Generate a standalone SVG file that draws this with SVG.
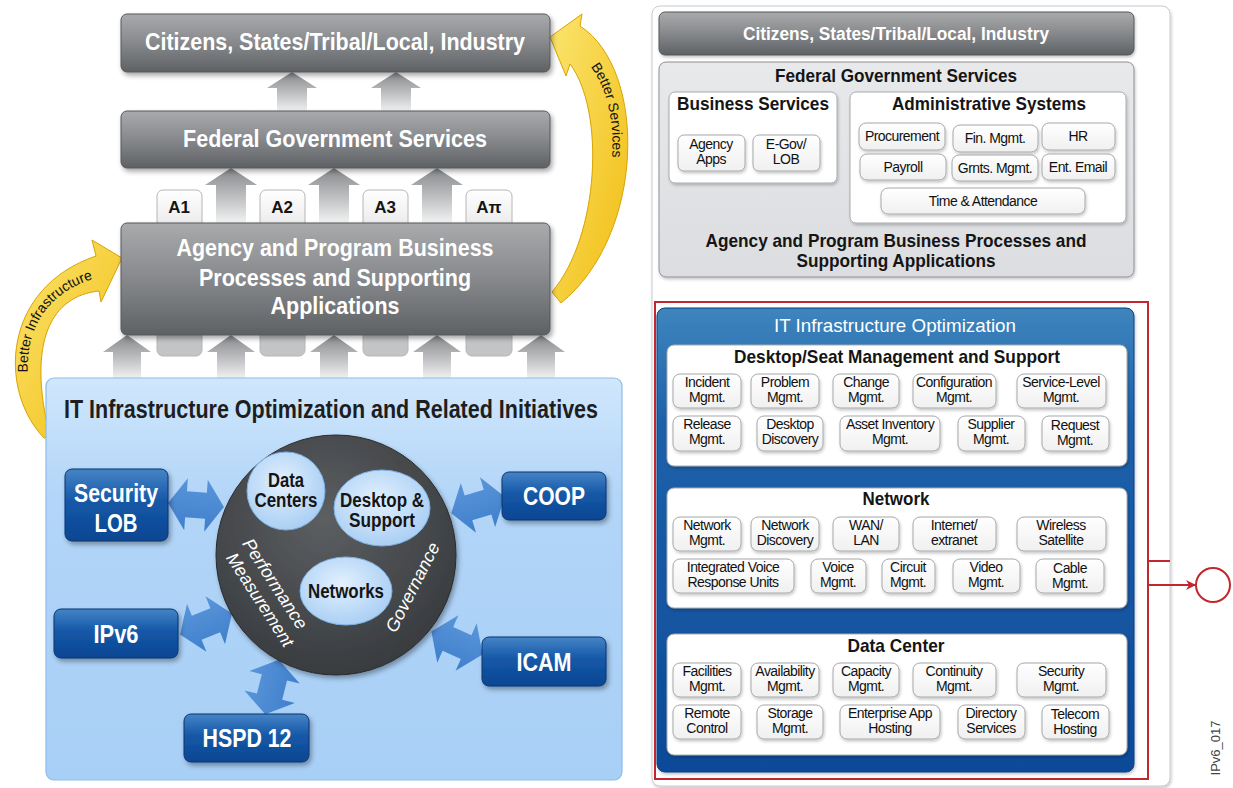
<svg xmlns="http://www.w3.org/2000/svg" width="1233" height="788" viewBox="0 0 1233 788">
<defs>
<style>
.nar{font-family:"Liberation Sans Narrow","Liberation Sans","Arial Narrow",Arial,sans-serif}
.reg{font-family:"Liberation Sans",Arial,sans-serif}
.gbox{fill:url(#gGray);stroke:#55585b;stroke-width:1}
.wt{fill:#fff;text-anchor:middle}
.bk{fill:#151515;text-anchor:middle}
.b{font-weight:bold}
.btn rect{fill:url(#gBtn);stroke:#a6a8aa;stroke-width:1;filter:url(#sh2)}
.btn text{font-family:"Liberation Sans Narrow","Liberation Sans","Arial Narrow",Arial,sans-serif;font-size:14px;letter-spacing:-0.55px;fill:#111;text-anchor:middle}
.dbox{fill:url(#gDBlue);stroke:#0a3570;stroke-width:1;filter:url(#sh)}
.inner{fill:url(#gInner);stroke:#7db0e2;stroke-width:1}
.garr{fill:url(#gArrow)}
.darr{fill:url(#gDArr)}
.yel{fill:url(#gYellow);stroke:#d9a300;stroke-width:1}
.tab{fill:url(#gTab);stroke:#b4b6b8;stroke-width:1}
.wpanel{fill:#fff;stroke:#c8cacc;stroke-width:1}
.sub{fill:#fff;stroke:#a8aaac;stroke-width:1;filter:url(#sh2)}
</style>
<linearGradient id="gGray" x1="0" y1="0" x2="0" y2="1"><stop offset="0" stop-color="#a8aaac"/><stop offset="0.45" stop-color="#8a8c8f"/><stop offset="1" stop-color="#5e6164"/></linearGradient>
<linearGradient id="gTab" x1="0" y1="0" x2="0" y2="1"><stop offset="0" stop-color="#ffffff"/><stop offset="0.2" stop-color="#ececec"/><stop offset="0.3" stop-color="#c9cacc"/><stop offset="1" stop-color="#c3c4c6"/></linearGradient>
<linearGradient id="gArrow" x1="0" y1="0" x2="0" y2="1"><stop offset="0" stop-color="#86888b"/><stop offset="0.6" stop-color="#c6c7c9"/><stop offset="1" stop-color="#f3f3f3"/></linearGradient>
<linearGradient id="gLBlue" x1="0" y1="0" x2="0" y2="1"><stop offset="0" stop-color="#d0e7fc"/><stop offset="0.3" stop-color="#b2d5f8"/><stop offset="1" stop-color="#a8cff6"/></linearGradient>
<linearGradient id="gDBlue" x1="0" y1="0" x2="0" y2="1"><stop offset="0" stop-color="#4584c6"/><stop offset="0.45" stop-color="#1558a7"/><stop offset="1" stop-color="#0a4692"/></linearGradient>
<linearGradient id="gDArr" x1="0" y1="0" x2="0" y2="1"><stop offset="0" stop-color="#5a95da"/><stop offset="1" stop-color="#3f7fcb"/></linearGradient>
<radialGradient id="gCircle" cx="0.45" cy="0.35" r="0.7"><stop offset="0" stop-color="#5c5f62"/><stop offset="1" stop-color="#36393c"/></radialGradient>
<radialGradient id="gInner" cx="0.45" cy="0.4" r="0.65"><stop offset="0" stop-color="#e3f1fe"/><stop offset="1" stop-color="#a6ccf3"/></radialGradient>
<linearGradient id="gYellow" x1="0" y1="0" x2="1" y2="1"><stop offset="0" stop-color="#fbe46e"/><stop offset="1" stop-color="#f1bd12"/></linearGradient>
<linearGradient id="gIT" x1="0" y1="0" x2="0" y2="1"><stop offset="0" stop-color="#3e85bd"/><stop offset="0.25" stop-color="#1d61aa"/><stop offset="1" stop-color="#0b4a99"/></linearGradient>
<linearGradient id="gBtn" x1="0" y1="0" x2="0" y2="1"><stop offset="0" stop-color="#ffffff"/><stop offset="1" stop-color="#f0f0f0"/></linearGradient>
<linearGradient id="gFed" x1="0" y1="0" x2="0" y2="1"><stop offset="0" stop-color="#e8e9eb"/><stop offset="1" stop-color="#dcdde0"/></linearGradient>
<filter id="sh" x="-10%" y="-10%" width="125%" height="135%"><feDropShadow dx="2" dy="3" stdDeviation="2.5" flood-color="#000" flood-opacity="0.35"/></filter>
<filter id="sh2" x="-10%" y="-10%" width="125%" height="140%"><feDropShadow dx="1" dy="2" stdDeviation="1.5" flood-color="#000" flood-opacity="0.22"/></filter>
<path id="dbl" d="M-28,0 L-10,-26 L-10,-13 L10,-13 L10,-26 L28,0 L10,26 L10,13 L-10,13 L-10,26 Z"/>
<marker id="redArr" markerWidth="10" markerHeight="10" refX="9" refY="5" orient="auto" markerUnits="userSpaceOnUse"><path d="M0,0 L10,5 L0,10 L3,5 Z" fill="#c1272d"/></marker>
<path id="pInfra" d="M28,380 C24,325 50,290 100,277"/>
<path id="pServ" d="M575,50 C604,73 620,120 609,180"/>
</defs>

<rect width="1233" height="788" fill="#fff"/>

<g id="tabs">
<rect class="tab" x="157" y="190" width="45" height="166" rx="6"/>
<rect class="tab" x="260" y="190" width="45" height="166" rx="6"/>
<rect class="tab" x="363" y="190" width="45" height="166" rx="6"/>
<rect class="tab" x="466" y="190" width="46" height="166" rx="6"/>
<text class="reg b bk" x="179" y="213" font-size="17">A1</text>
<text class="reg b bk" x="282" y="213" font-size="17">A2</text>
<text class="reg b bk" x="385" y="213" font-size="17">A3</text>
<text class="reg b bk" x="489" y="213" font-size="17">Aπ</text>
</g>

<g id="connectors">
<path class="garr" d="M292,72 L317,88 L307,88 L307,112 L277,112 L277,88 L267,88 Z"/>
<path class="garr" d="M396,72 L421,88 L411,88 L411,112 L381,112 L381,88 L371,88 Z"/>
<path class="garr" d="M231,168 L257,185 L246,185 L246,223 L216,223 L216,185 L205,185 Z"/>
<path class="garr" d="M334,168 L360,185 L349,185 L349,223 L319,223 L319,185 L308,185 Z"/>
<path class="garr" d="M437,168 L463,185 L452,185 L452,223 L422,223 L422,185 L411,185 Z"/>
<path class="garr" d="M127,335 L151,352 L141,352 L141,379 L113,379 L113,352 L103,352 Z"/>
<path class="garr" d="M231,335 L255,352 L245,352 L245,379 L217,379 L217,352 L207,352 Z"/>
<path class="garr" d="M334,335 L358,352 L348,352 L348,379 L320,379 L320,352 L310,352 Z"/>
<path class="garr" d="M437,335 L461,352 L451,352 L451,379 L423,379 L423,352 L413,352 Z"/>
<path class="garr" d="M541,335 L565,352 L555,352 L555,379 L527,379 L527,352 L517,352 Z"/>
<g id="arrInfra">
<path class="yel" d="M44,438 C-2,390 2,288 96,256 L92,240 L122,258 L101,302 L99,291 C52,296 26,340 50,437 Z"/>
<text class="reg" font-size="14" fill="#111"><textPath href="#pInfra" startOffset="50%" text-anchor="middle">Better Infrastructure</textPath></text>
</g>
<g id="arrServ">
<path class="yel" d="M552,292 C600,235 605,110 570,64 L566,76 L550,37 L582,14 L580,26 C648,70 645,235 561,303 Z"/>
<text class="reg" font-size="14" fill="#111"><textPath href="#pServ" startOffset="50%" text-anchor="middle">Better Services</textPath></text>
</g>
</g>

<g id="citizens">
<rect class="gbox" x="121" y="14" width="429" height="58" rx="6" filter="url(#sh)"/>
<text class="nar b wt" x="335" y="50" font-size="24" textLength="380" lengthAdjust="spacingAndGlyphs">Citizens, States/Tribal/Local, Industry</text>
</g>
<g id="federal">
<rect class="gbox" x="121" y="111" width="429" height="57" rx="6" filter="url(#sh)"/>
<text class="nar b wt" x="335" y="147" font-size="24" textLength="304" lengthAdjust="spacingAndGlyphs">Federal Government Services</text>
</g>
<g id="agency">
<rect class="gbox" x="121" y="223" width="429" height="112" rx="6" filter="url(#sh)"/>
<text class="nar b wt" x="335" y="256" font-size="24" textLength="317" lengthAdjust="spacingAndGlyphs">Agency and Program Business</text>
<text class="nar b wt" x="335" y="286" font-size="24" textLength="272" lengthAdjust="spacingAndGlyphs">Processes and Supporting</text>
<text class="nar b wt" x="335" y="314" font-size="24" textLength="129" lengthAdjust="spacingAndGlyphs">Applications</text>
</g>

<g id="itio-related">
<rect x="46" y="378" width="576" height="402" rx="8" fill="url(#gLBlue)" stroke="#8cbde9" stroke-width="1.2"/>
<text class="nar b" x="64" y="418" font-size="25" fill="#1e1e1e" textLength="534" lengthAdjust="spacingAndGlyphs">IT Infrastructure Optimization and Related Initiatives</text>
</g>

<g id="double-arrows">
<use href="#dbl" class="darr" transform="translate(196,505) rotate(4)"/>
<use href="#dbl" class="darr" transform="translate(478,505) rotate(-17)"/>
<use href="#dbl" class="darr" transform="translate(206,624) rotate(-22)"/>
<use href="#dbl" class="darr" transform="translate(457,643) rotate(24)"/>
<use href="#dbl" class="darr" transform="translate(272,687) rotate(-76)"/>
</g>

<g id="hub">
<circle cx="336" cy="555" r="120" fill="url(#gCircle)" stroke="#2a2c2e" stroke-width="1" filter="url(#sh)"/>
<text class="nar" font-size="18" font-style="italic" fill="#fff" text-anchor="middle" transform="translate(270,587) rotate(57)" textLength="104" lengthAdjust="spacingAndGlyphs">Performance</text>
<text class="nar" font-size="18" font-style="italic" fill="#fff" text-anchor="middle" transform="translate(255,603) rotate(57)" textLength="108" lengthAdjust="spacingAndGlyphs">Measurement</text>
<text class="nar" font-size="18" font-style="italic" fill="#fff" text-anchor="middle" transform="translate(418,590) rotate(-63)" textLength="98" lengthAdjust="spacingAndGlyphs">Governance</text>
</g>
<g id="data-centers">
<circle class="inner" cx="286" cy="491" r="39"/>
<text class="nar b bk" x="286" y="487" font-size="20" textLength="36" lengthAdjust="spacingAndGlyphs">Data</text>
<text class="nar b bk" x="286" y="507" font-size="20" textLength="63" lengthAdjust="spacingAndGlyphs">Centers</text>
</g>
<g id="desktop-support">
<ellipse class="inner" cx="382" cy="508" rx="48" ry="38"/>
<text class="nar b bk" x="382" y="507" font-size="20" textLength="84" lengthAdjust="spacingAndGlyphs">Desktop &amp;</text>
<text class="nar b bk" x="382" y="527" font-size="20" textLength="66" lengthAdjust="spacingAndGlyphs">Support</text>
</g>
<g id="networks">
<ellipse class="inner" cx="346" cy="591" rx="46" ry="34"/>
<text class="nar b bk" x="346" y="598" font-size="20" textLength="76" lengthAdjust="spacingAndGlyphs">Networks</text>
</g>

<g id="security-lob">
<rect class="dbox" x="65" y="469" width="103" height="72" rx="7"/>
<text class="nar b wt" x="116" y="502" font-size="25" textLength="84" lengthAdjust="spacingAndGlyphs">Security</text>
<text class="nar b wt" x="116" y="532" font-size="25" textLength="43" lengthAdjust="spacingAndGlyphs">LOB</text>
</g>
<g id="coop">
<rect class="dbox" x="502" y="472" width="104" height="48" rx="7"/>
<text class="nar b wt" x="554" y="505" font-size="25" textLength="62" lengthAdjust="spacingAndGlyphs">COOP</text>
</g>
<g id="ipv6">
<rect class="dbox" x="54" y="609" width="124" height="49" rx="7"/>
<text class="nar b wt" x="116" y="643" font-size="25" textLength="45" lengthAdjust="spacingAndGlyphs">IPv6</text>
</g>
<g id="icam">
<rect class="dbox" x="482" y="637" width="124" height="49" rx="7"/>
<text class="nar b wt" x="544" y="671" font-size="25" textLength="55" lengthAdjust="spacingAndGlyphs">ICAM</text>
</g>
<g id="hspd12">
<rect class="dbox" x="184" y="714" width="125" height="48" rx="7"/>
<text class="nar b wt" x="247" y="747" font-size="25" textLength="89" lengthAdjust="spacingAndGlyphs">HSPD 12</text>
</g>

<g id="right-panel">
<rect class="wpanel" x="652" y="6" width="518" height="780" rx="8" filter="url(#sh2)"/>
</g>
<g id="r-citizens">
<rect class="gbox" x="659" y="12" width="475" height="43" rx="6" filter="url(#sh2)"/>
<text class="nar b wt" x="896" y="40" font-size="18" textLength="306" lengthAdjust="spacingAndGlyphs">Citizens, States/Tribal/Local, Industry</text>
</g>
<g id="r-federal">
<rect x="659" y="62" width="475" height="215" rx="7" fill="url(#gFed)" stroke="#8e9092" stroke-width="1" filter="url(#sh2)"/>
<text class="nar b bk" x="896" y="82" font-size="19" textLength="242" lengthAdjust="spacingAndGlyphs">Federal Government Services</text>
<text class="nar b bk" x="896" y="247" font-size="19" textLength="381" lengthAdjust="spacingAndGlyphs">Agency and Program Business Processes and</text>
<text class="nar b bk" x="896" y="267" font-size="19" textLength="199" lengthAdjust="spacingAndGlyphs">Supporting Applications</text>
</g>
<g id="business-services">
<rect class="sub" x="669" y="92" width="168" height="91" rx="6"/>
<text class="nar b bk" x="753" y="110" font-size="19" textLength="152" lengthAdjust="spacingAndGlyphs">Business Services</text>
<g class="btn">
<rect x="678" y="135" width="67" height="36" rx="6"/><text x="711" y="149">Agency</text><text x="711" y="164">Apps</text>
<rect x="753" y="135" width="67" height="36" rx="6"/><text x="786" y="149">E-Gov/</text><text x="786" y="164">LOB</text>
</g>
</g>
<g id="admin-systems">
<rect class="sub" x="850" y="92" width="276" height="131" rx="6"/>
<text class="nar b bk" x="989" y="110" font-size="19" textLength="194" lengthAdjust="spacingAndGlyphs">Administrative Systems</text>
<g class="btn">
<rect x="859" y="123" width="86" height="27" rx="7"/><text x="902" y="141">Procurement</text>
<rect x="953" y="125" width="85" height="27" rx="7"/><text x="995" y="143">Fin. Mgmt.</text>
<rect x="1042" y="123" width="73" height="27" rx="7"/><text x="1078" y="141">HR</text>
<rect x="860" y="154" width="86" height="26" rx="7"/><text x="903" y="172">Payroll</text>
<rect x="952" y="155" width="86" height="26" rx="7"/><text x="995" y="173">Grnts. Mgmt.</text>
<rect x="1042" y="154" width="73" height="26" rx="7"/><text x="1078" y="172">Ent. Email</text>
<rect x="881" y="188" width="204" height="26" rx="7"/><text x="983" y="206">Time &amp; Attendance</text>
</g>
</g>

<g id="it-optimization">
<rect x="657" y="308" width="477" height="464" rx="8" fill="url(#gIT)" stroke="#0a3f80" stroke-width="1" filter="url(#sh2)"/>
<text class="nar wt" x="895" y="332" font-size="19" textLength="242" lengthAdjust="spacingAndGlyphs">IT Infrastructure Optimization</text>
</g>
<g id="desktop-seat">
<rect class="sub" x="667" y="345" width="460" height="121" rx="7"/>
<text class="nar b bk" x="897" y="363" font-size="19" textLength="326" lengthAdjust="spacingAndGlyphs">Desktop/Seat Management and Support</text>
<g class="btn">
<rect x="673" y="374" width="68" height="34" rx="7"/><text x="707" y="387">Incident</text><text x="707" y="402">Mgmt.</text>
<rect x="751" y="374" width="68" height="34" rx="7"/><text x="785" y="387">Problem</text><text x="785" y="402">Mgmt.</text>
<rect x="833" y="374" width="66" height="34" rx="7"/><text x="866" y="387">Change</text><text x="866" y="402">Mgmt.</text>
<rect x="913" y="374" width="83" height="34" rx="7"/><text x="954" y="387">Configuration</text><text x="954" y="402">Mgmt.</text>
<rect x="1017" y="374" width="89" height="34" rx="7"/><text x="1061" y="387">Service-Level</text><text x="1061" y="402">Mgmt.</text>
<rect x="673" y="416" width="68" height="35" rx="7"/><text x="707" y="429">Release</text><text x="707" y="444">Mgmt.</text>
<rect x="757" y="416" width="66" height="35" rx="7"/><text x="790" y="429">Desktop</text><text x="790" y="444">Discovery</text>
<rect x="840" y="416" width="100" height="35" rx="7"/><text x="890" y="429">Asset Inventory</text><text x="890" y="444">Mgmt.</text>
<rect x="958" y="416" width="67" height="35" rx="7"/><text x="991" y="429">Supplier</text><text x="991" y="444">Mgmt.</text>
<rect x="1042" y="416" width="67" height="35" rx="7"/><text x="1075" y="430">Request</text><text x="1075" y="445">Mgmt.</text>
</g>
</g>
<g id="network">
<rect class="sub" x="667" y="488" width="460" height="120" rx="7"/>
<text class="nar b bk" x="896" y="505" font-size="19" textLength="67" lengthAdjust="spacingAndGlyphs">Network</text>
<g class="btn">
<rect x="673" y="517" width="68" height="34" rx="7"/><text x="707" y="530">Network</text><text x="707" y="545">Mgmt.</text>
<rect x="751" y="517" width="68" height="34" rx="7"/><text x="785" y="530">Network</text><text x="785" y="545">Discovery</text>
<rect x="833" y="517" width="66" height="34" rx="7"/><text x="866" y="530">WAN/</text><text x="866" y="545">LAN</text>
<rect x="913" y="517" width="83" height="34" rx="7"/><text x="954" y="530">Internet/</text><text x="954" y="545">extranet</text>
<rect x="1017" y="517" width="89" height="34" rx="7"/><text x="1061" y="530">Wireless</text><text x="1061" y="545">Satellite</text>
<rect x="673" y="559" width="121" height="34" rx="7"/><text x="733" y="572">Integrated Voice</text><text x="733" y="587">Response Units</text>
<rect x="811" y="559" width="55" height="34" rx="7"/><text x="838" y="572">Voice</text><text x="838" y="587">Mgmt.</text>
<rect x="882" y="559" width="53" height="34" rx="7"/><text x="908" y="572">Circuit</text><text x="908" y="587">Mgmt.</text>
<rect x="953" y="559" width="67" height="34" rx="7"/><text x="986" y="572">Video</text><text x="986" y="587">Mgmt.</text>
<rect x="1036" y="559" width="68" height="34" rx="7"/><text x="1070" y="573">Cable</text><text x="1070" y="588">Mgmt.</text>
</g>
</g>
<g id="data-center">
<rect class="sub" x="667" y="634" width="460" height="121" rx="7"/>
<text class="nar b bk" x="896" y="652" font-size="19" textLength="97" lengthAdjust="spacingAndGlyphs">Data Center</text>
<g class="btn">
<rect x="673" y="663" width="68" height="34" rx="7"/><text x="707" y="676">Facilities</text><text x="707" y="691">Mgmt.</text>
<rect x="751" y="663" width="68" height="34" rx="7"/><text x="785" y="676">Availability</text><text x="785" y="691">Mgmt.</text>
<rect x="833" y="663" width="66" height="34" rx="7"/><text x="866" y="676">Capacity</text><text x="866" y="691">Mgmt.</text>
<rect x="913" y="663" width="83" height="34" rx="7"/><text x="954" y="676">Continuity</text><text x="954" y="691">Mgmt.</text>
<rect x="1017" y="663" width="89" height="34" rx="7"/><text x="1061" y="676">Security</text><text x="1061" y="691">Mgmt.</text>
<rect x="673" y="705" width="68" height="34" rx="7"/><text x="707" y="718">Remote</text><text x="707" y="733">Control</text>
<rect x="757" y="705" width="66" height="34" rx="7"/><text x="790" y="718">Storage</text><text x="790" y="733">Mgmt.</text>
<rect x="840" y="705" width="100" height="34" rx="7"/><text x="890" y="718">Enterprise App</text><text x="890" y="733">Hosting</text>
<rect x="958" y="705" width="67" height="34" rx="7"/><text x="991" y="718">Directory</text><text x="991" y="733">Services</text>
<rect x="1042" y="705" width="67" height="34" rx="7"/><text x="1075" y="719">Telecom</text><text x="1075" y="734">Hosting</text>
</g>
</g>

<g id="red-connector">
<rect x="655" y="302" width="493" height="477" fill="none" stroke="#c1272d" stroke-width="2"/>
<path d="M1148,561 H1170" stroke="#c1272d" stroke-width="2" fill="none"/>
<path d="M1148,585 H1195" stroke="#c1272d" stroke-width="2" fill="none" marker-end="url(#redArr)"/>
</g>
<g id="red-circle">
<circle cx="1213" cy="585" r="17" fill="#fff" stroke="#c1272d" stroke-width="2"/>
</g>

<g id="figure-id">
<text class="reg" x="0" y="0" font-size="13" fill="#444" text-anchor="middle" transform="translate(1220,748) rotate(-90)">IPv6_017</text>
</g>
</svg>
